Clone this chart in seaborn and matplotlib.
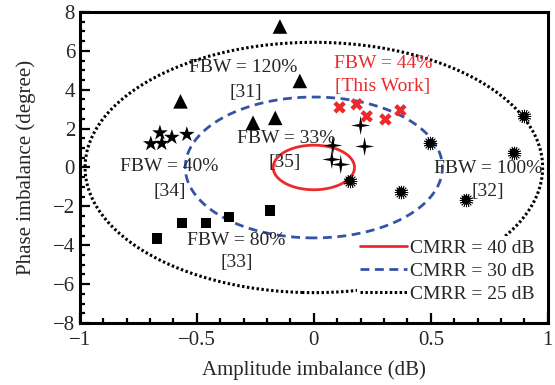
import numpy as np
import pandas as pd
import seaborn as sns
import matplotlib.pyplot as plt
from matplotlib.path import Path
from matplotlib.lines import Line2D

# ---- data ----
# [31] FBW = 120%  (triangles)
ref31_amp = [-0.145, -0.06, -0.57, -0.26, -0.165]
ref31_phase = [7.25, 4.45, 3.4, 2.3, 2.55]
# [34] FBW = 40%  (stars)
ref34_amp = [-0.697, -0.65, -0.658, -0.607, -0.543]
ref34_phase = [1.22, 1.24, 1.78, 1.55, 1.70]
# [33] FBW = 80%  (squares)
ref33_amp = [-0.67, -0.564, -0.46, -0.363, -0.187]
ref33_phase = [-3.66, -2.84, -2.84, -2.53, -2.22]
# [35] FBW = 33%  (four point stars)
ref35_amp = [0.081, 0.2, 0.217, 0.077, 0.115]
ref35_phase = [1.13, 2.16, 1.08, 0.41, 0.15]
# [32] FBW = 100%  (suns)
ref32_amp = [0.897, 0.855, 0.496, 0.153, 0.372, 0.65]
ref32_phase = [2.63, 0.77, 1.24, -0.67, -1.24, -1.65]
# this work FBW = 44%  (red crosses)
work_amp = [0.11, 0.183, 0.226, 0.306, 0.37]
work_phase = [3.09, 3.25, 2.63, 2.47, 2.94]

cmrr_levels = [25, 30, 40]

RED = '#ec2a2e'
BLUE = '#3553a6'

sns.set_style("ticks")
plt.rcParams['font.family'] = ['Liberation Serif', 'DejaVu Serif']

fig = plt.figure(figsize=(5.55, 3.85), dpi=100)
ax = fig.add_axes([0.144, 0.161, 0.843, 0.808])

# CMRR contours
A, P = np.meshgrid(np.linspace(-1.05, 1.05, 600), np.linspace(-8.5, 8.5, 600))
k = 10 ** (A / 20)
z = k * np.exp(1j * np.deg2rad(P))
cmrr = 20 * np.log10(np.abs(1 + z) / np.abs(1 - z))
dot = (0, (0.8, 0.8))
dash = (0, (3.2, 2.0))
ax.contour(A, P, cmrr, levels=[cmrr_levels[0]], colors='black',
           linewidths=2.2, linestyles=[dot])
ax.contour(A, P, cmrr, levels=[cmrr_levels[1]], colors=BLUE,
           linewidths=2.0, linestyles=[dash])
ax.contour(A, P, cmrr, levels=[cmrr_levels[2]], colors=RED,
           linewidths=2.0, linestyles='solid')

# sparkle marker
r = 0.22
ang = np.deg2rad(np.arange(0, 360, 45) + 90)
rad = np.array([1, r] * 4)
verts = np.column_stack([rad * np.cos(ang), rad * np.sin(ang)])
verts = np.vstack([verts, verts[:1]])
sparkle = Path(verts, [Path.MOVETO] + [Path.LINETO] * 7 + [Path.CLOSEPOLY])

def pts(a, p):
    return pd.DataFrame({'amp': a, 'phase': p})

sns.scatterplot(data=pts(ref31_amp, ref31_phase), x='amp', y='phase', ax=ax,
                marker='^', s=110, color='black', edgecolor='none', zorder=5)
sns.scatterplot(data=pts(ref34_amp, ref34_phase), x='amp', y='phase', ax=ax,
                marker='*', s=140, color='black', edgecolor='none', zorder=5)
sns.scatterplot(data=pts(ref33_amp, ref33_phase), x='amp', y='phase', ax=ax,
                marker='s', s=55, color='black', edgecolor='none', zorder=5)
sns.scatterplot(data=pts(ref35_amp, ref35_phase), x='amp', y='phase', ax=ax,
                marker=sparkle, s=190, color='black', edgecolor='none', zorder=5)
sns.scatterplot(data=pts(ref32_amp, ref32_phase), x='amp', y='phase', ax=ax,
                marker=(16, 2, 0), s=85, color='black', linewidth=0.6, zorder=5)
sns.scatterplot(data=pts(ref32_amp, ref32_phase), x='amp', y='phase', ax=ax,
                marker='o', s=38, color='black', edgecolor='none', zorder=6)
sns.scatterplot(data=pts(work_amp, work_phase), x='amp', y='phase', ax=ax,
                marker='X', s=80, color=RED, edgecolor='none', zorder=5)

fs = 14
ax.text(-0.30, 5.15, 'FBW = 120%', ha='center', va='center', fontsize=fs)
ax.text(-0.29, 3.87, '[31]', ha='center', va='center', fontsize=fs)
ax.text(-0.12, 1.49, 'FBW = 33%', ha='center', va='center', fontsize=fs)
ax.text(-0.125, 0.26, '[35]', ha='center', va='center', fontsize=fs)
ax.text(-0.62, 0.05, 'FBW = 40%', ha='center', va='center', fontsize=fs)
ax.text(-0.615, -1.24, '[34]', ha='center', va='center', fontsize=fs)
ax.text(-0.33, -3.76, 'FBW = 80%', ha='center', va='center', fontsize=fs)
ax.text(-0.33, -4.9, '[33]', ha='center', va='center', fontsize=fs)
ax.text(0.295, 5.36, 'FBW = 44%', ha='center', va='center', fontsize=fs, color=RED)
ax.text(0.295, 4.17, '[This Work]', ha='center', va='center', fontsize=fs, color=RED)
ax.text(0.745, -0.05, 'FBW = 100%', ha='center', va='center', fontsize=fs)
ax.text(0.745, -1.24, '[32]', ha='center', va='center', fontsize=fs)

handles = [
    Line2D([], [], color=RED, lw=2.0, ls='solid'),
    Line2D([], [], color=BLUE, lw=2.0, ls=dash),
    Line2D([], [], color='black', lw=2.2, ls=dot),
]
labels = ['CMRR = %d dB' % v for v in sorted(cmrr_levels, reverse=True)]
leg = ax.legend(handles, labels, loc='lower right', frameon=True, fontsize=fs,
                handlelength=2.4, handletextpad=0.2, labelspacing=0.28,
                borderaxespad=0.0, borderpad=0.15, bbox_to_anchor=(0.979, 0.055),
                fancybox=False, framealpha=1)
leg.get_frame().set_edgecolor('none')
leg.set_zorder(10)

ax.set_xlim(-1, 1)
ax.set_ylim(-8, 8)
ax.set_xticks([-1, -0.5, 0, 0.5, 1])
ax.set_xticklabels(['\u22121', '\u22120.5', '0', '0.5', '1'])
ax.set_yticks(range(-8, 9, 2))
ax.set_xticks(np.arange(-1, 1.01, 0.1), minor=True)
ax.set_yticks(np.arange(-8, 8.01, 0.5), minor=True)
ax.tick_params(which='both', direction='in', top=False, right=False,
               labelsize=15, width=1.6, color='black')
ax.tick_params(which='major', length=7)
ax.tick_params(which='minor', length=3.5)
ax.tick_params(axis='x', which='major', pad=6)
for sp in ax.spines.values():
    sp.set_linewidth(2.2)
    sp.set_color('black')
ax.set_xlabel('Amplitude imbalance (dB)', fontsize=15, labelpad=7)
ax.set_ylabel('Phase imbalance (degree)', fontsize=15, labelpad=12)

fig.savefig('out.png', dpi=100)
